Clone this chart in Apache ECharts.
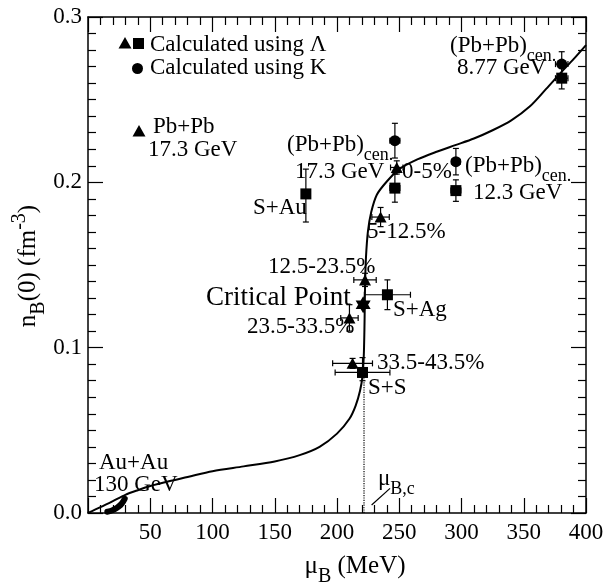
<!DOCTYPE html>
<html>
<head>
<meta charset="utf-8">
<script src="https://cdn.jsdelivr.net/npm/echarts@6/dist/echarts.min.js"></script>
<style>
  html, body { margin: 0; padding: 0; background: #fff; }
  #chart { width: 615px; height: 582px; }
</style>
</head>
<body>
<div id="chart"></div>
<script>
// values (muB in MeV, nB(0) in fm^-3)
// squares: calculated using Lambda
const sqMu = [380.5, 295.5, 246.5, 175, 240.5, 220.5]
const sqN = [0.263, 0.195, 0.1965, 0.193, 0.132, 0.085]
const sqMuErr = [5, 4, 4, 0, 18.5, 22]
const sqNLo = [0.0065, 0.0065, 0.0085, 0.017, 0.009, 0.005]
const sqNHi = [0.0065, 0.0065, 0.0085, 0.015, 0.009, 0.009]
// triangles: Pb+Pb 17.3 GeV centrality classes
const triMu = [248, 235, 222.5, 210, 212.5]
const triN = [0.209, 0.179, 0.141, 0.118, 0.0905]
const triMuErr = [5, 7, 9, 7, 16]
const triNErr = [0.004, 0.0058, 0.004, 0.008, 0.003]
// circles: calculated using K
const cirMu = [380.5, 295.5, 246.5]
const cirN = [0.2715, 0.2125, 0.2252]
const cirMuErr = [5, 3.5, 4]
const cirNErr = [0.0075, 0.008, 0.0105]
// critical point
const critMu = [221]
const critN = [0.126]
// Au+Au 130 GeV band
const auMu = [15.5, 18, 21, 24, 27, 29.5]
const auN = [0.0008, 0.0012, 0.0022, 0.0036, 0.0056, 0.0086]
// model curve
const curveMu = [0, 10, 20, 30, 40, 50, 65, 80, 100, 125, 150, 170, 186, 200, 210, 215, 218.5, 220.5, 221.5,
  222, 222.3, 222.6, 223.3, 224.8, 227.5, 232, 240, 250, 265, 280, 295, 310, 325, 340, 355, 368, 380, 390, 400]
const curveN = [0, 0.0035, 0.0072, 0.011, 0.0138, 0.0163, 0.0192, 0.0218, 0.0253, 0.0282, 0.0312, 0.035, 0.04,
  0.048, 0.057, 0.065, 0.074, 0.083, 0.095, 0.11, 0.125, 0.14, 0.155, 0.17, 0.182, 0.1925, 0.2005, 0.208, 0.214,
  0.2185, 0.2225, 0.2265, 0.2315, 0.2375, 0.246, 0.2565, 0.2665, 0.2745, 0.283]
// mu_B,c marker
const muC = 221.7
const muCTop = 0.085

const FONT = '"Liberation Serif", "Times New Roman", serif'
const pts = (xs, ys) => xs.map((x, i) => [x, ys[i]])

const errRows = [].concat(
  sqMu.map((m, i) => [m, sqN[i], sqMuErr[i], sqNLo[i], sqNHi[i]]),
  triMu.map((m, i) => [m, triN[i], triMuErr[i], triNErr[i], triNErr[i]]),
  cirMu.map((m, i) => [m, cirN[i], cirMuErr[i], cirNErr[i], cirNErr[i]])
)

// error bars with small end caps
function renderErr(params, api) {
  const mu = api.value(0), n = api.value(1)
  const dx = api.value(2), lo = api.value(3), hi = api.value(4)
  const c = api.coord([mu, n])
  const l = api.coord([mu - dx, n]), r = api.coord([mu + dx, n])
  const b = api.coord([mu, n - lo]), t = api.coord([mu, n + hi])
  const cap = 3
  const style = { stroke: '#000', lineWidth: 1.2 }
  const kids = []
  const seg = (x1, y1, x2, y2) => kids.push({ type: 'line', shape: { x1, y1, x2, y2 }, style })
  if (dx > 0) {
    seg(l[0], c[1], r[0], c[1])
    seg(l[0], c[1] - cap, l[0], c[1] + cap)
    seg(r[0], c[1] - cap, r[0], c[1] + cap)
  }
  if (lo > 0 || hi > 0) {
    seg(c[0], b[1], c[0], t[1])
    seg(c[0] - cap, t[1], c[0] + cap, t[1])
    seg(c[0] - cap, b[1], c[0] + cap, b[1])
  }
  return { type: 'group', children: kids }
}

const star = 'path://M0,-10L8.66,5L-8.66,5Z M0,10L-8.66,-5L8.66,-5Z'

function xAx(pos, labels) {
  return {
    type: 'value', position: pos, min: 0, max: 400, interval: 50,
    axisLine: { show: true, onZero: false, lineStyle: { color: '#000', width: 1.5 } },
    axisTick: { show: true, inside: true, length: 15, lineStyle: { color: '#000', width: 1.2 } },
    minorTick: { show: true, splitNumber: 5, length: 8, lineStyle: { color: '#000', width: 1.2 } },
    axisLabel: {
      show: labels, margin: 8, color: '#000', fontSize: 23, fontFamily: FONT,
      formatter: v => (v === 0 ? '' : String(v))
    },
    splitLine: { show: false }
  }
}
function yAx(pos, labels) {
  return {
    type: 'value', position: pos, min: 0, max: 0.3, interval: 0.1,
    axisLine: { show: true, onZero: false, lineStyle: { color: '#000', width: 1.5 } },
    axisTick: { show: true, inside: true, length: 15, lineStyle: { color: '#000', width: 1.2 } },
    minorTick: { show: true, splitNumber: 10, length: 8, lineStyle: { color: '#000', width: 1.2 } },
    axisLabel: {
      show: labels, margin: 6, color: '#000', fontSize: 23, fontFamily: FONT,
      formatter: v => v.toFixed(1)
    },
    splitLine: { show: false }
  }
}

// rich styles: m = main, b = subscript, p = superscript
function rich(size) {
  const s = Math.round(size * 0.78)
  return {
    m: { fontSize: size, fontFamily: FONT, fill: '#000', padding: [6, 0, 8, 0], verticalAlign: 'top' },
    b: { fontSize: s, fontFamily: FONT, fill: '#000', verticalAlign: 'bottom' },
    p: { fontSize: s, fontFamily: FONT, fill: '#000', verticalAlign: 'top' }
  }
}
function txt(x, y, text, size, extra) {
  return Object.assign({
    type: 'text', x: x, y: y, z: 100,
    style: { text: text, rich: rich(size || 23), align: 'left', verticalAlign: 'middle' }
  }, extra || {})
}

const notes = [
  txt(150, 46, '{m|Calculated using Λ}'),
  txt(150, 69, '{m|Calculated using K}'),
  txt(153, 128, '{m|Pb+Pb}'),
  txt(148, 151, '{m|17.3 GeV}'),
  txt(450, 47, '{m|(Pb+Pb)}{b|cen.}'),
  txt(457, 69, '{m|8.77 GeV}'),
  txt(287, 146, '{m|(Pb+Pb)}{b|cen.}'),
  txt(295, 173, '{m|17.3 GeV}'),
  txt(402, 173, '{m|0-5%}'),
  txt(465, 167, '{m|(Pb+Pb)}{b|cen.}'),
  txt(473, 194, '{m|12.3 GeV}'),
  txt(253, 209, '{m|S+Au}'),
  txt(367, 233, '{m|5-12.5%}'),
  txt(268, 268, '{m|12.5-23.5%}'),
  txt(206, 299, '{m|Critical Point}', 27),
  txt(393, 311, '{m|S+Ag}'),
  txt(247, 328, '{m|23.5-33.5%}'),
  txt(377, 364, '{m|33.5-43.5%}'),
  txt(368, 389, '{m|S+S}'),
  txt(99, 464, '{m|Au+Au}'),
  txt(94, 486, '{m|130 GeV}'),
  txt(378, 480, '{m|μ}{b|B,c}'),
  // axis titles
  txt(355, 567, '', 25, { style: { text: '{m|μ}{b|B}{m| (MeV)}', rich: rich(25), align: 'center', verticalAlign: 'middle' } }),
  txt(29, 266, '', 25, {
    rotation: Math.PI / 2,
    style: { text: '{m|n}{b|B}{m|(0) (fm}{p|-3}{m|)}', rich: rich(25), align: 'center', verticalAlign: 'middle' }
  }),
  // legend keys
  { type: 'polygon', z: 100, shape: { points: [[125, 37], [131.5, 48.5], [118.5, 48.5]] }, style: { fill: '#000' } },
  { type: 'rect', z: 100, shape: { x: 133, y: 38, width: 11, height: 11 }, style: { fill: '#000' } },
  { type: 'circle', z: 100, shape: { cx: 137.5, cy: 68.5, r: 5.5 }, style: { fill: '#000' } },
  { type: 'polygon', z: 100, shape: { points: [[139, 125], [145.5, 136.5], [132.5, 136.5]] }, style: { fill: '#000' } }
]

const solid = { color: '#000', opacity: 1 }

const chart = echarts.init(document.getElementById('chart'))
chart.setOption({
  backgroundColor: '#fff',
  animation: false,
  grid: { left: 88, right: 29, top: 17, bottom: 69, containLabel: false, outerBoundsMode: 'none' },
  xAxis: [xAx('bottom', true), xAx('top', false)],
  yAxis: [yAx('left', true), yAx('right', false)],
  series: [
    {
      name: 'curve', type: 'line', data: pts(curveMu, curveN), showSymbol: false,
      smooth: 0.3, lineStyle: { color: '#000', width: 2 }, z: 2
    },
    {
      name: 'muc', type: 'line', data: [[muC, 0], [muC, muCTop]], showSymbol: false,
      lineStyle: { color: '#000', width: 1.2, type: 'dotted' }, z: 2
    },
    {
      name: 'muc-point', type: 'scatter', data: [[225, 0.003]], symbol: 'emptyCircle', symbolSize: 5,
      itemStyle: { color: '#fff', borderColor: '#000', borderWidth: 1, opacity: 1 }, z: 3
    },
    {
      name: 'muc-leader', type: 'line', data: [[227.8, 0.0048], [242.6, 0.0149]], showSymbol: false,
      lineStyle: { color: '#000', width: 1.2 }, z: 3
    },
    {
      name: 'AuAu', type: 'line', data: pts(auMu, auN), showSymbol: false, smooth: true,
      lineStyle: { color: '#000', width: 6, cap: 'round', join: 'round' }, z: 4
    },
    {
      name: 'errors', type: 'custom', renderItem: renderErr, data: errRows,
      encode: { x: 0, y: 1 }, z: 5
    },
    {
      name: 'Lambda squares', type: 'scatter', data: pts(sqMu, sqN), symbol: 'rect', symbolSize: 11,
      itemStyle: solid, z: 6
    },
    {
      name: 'Lambda triangles', type: 'scatter', data: pts(triMu, triN), symbol: 'triangle', symbolSize: [12, 11],
      itemStyle: solid, z: 6
    },
    {
      name: 'K circles', type: 'scatter', data: pts(cirMu, cirN), symbol: 'circle', symbolSize: 11,
      itemStyle: solid, z: 6
    },
    {
      name: 'critical point', type: 'scatter', data: pts(critMu, critN), symbol: star, symbolSize: [15, 17],
      itemStyle: solid, z: 7
    }
  ],
  graphic: notes
})
</script>
</body>
</html>
